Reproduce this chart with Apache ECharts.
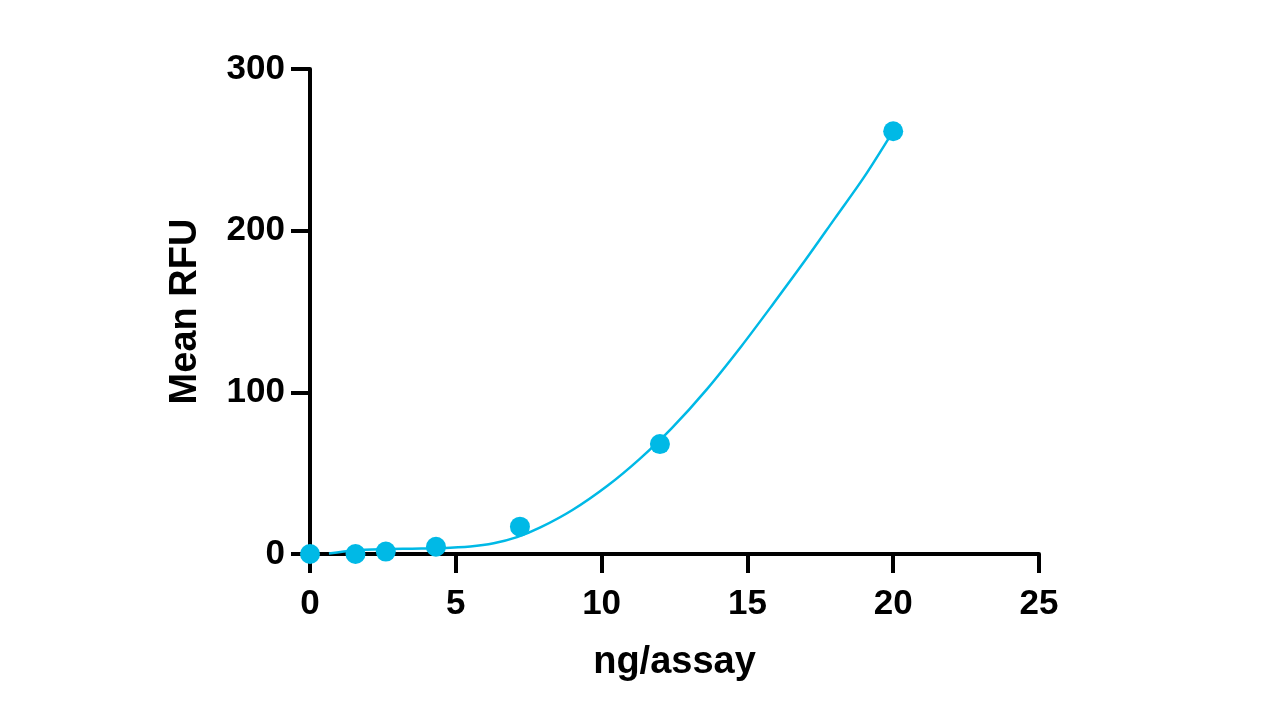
<!DOCTYPE html>
<html>
<head>
<meta charset="utf-8">
<script src="https://cdn.jsdelivr.net/npm/echarts@6/dist/echarts.min.js"></script>
<style>
html,body{margin:0;padding:0;background:#fff;}
#chart{width:1280px;height:720px;}
</style>
</head>
<body>
<div id="chart"></div>
<script>
// Measured points
const doseX = [0, 1.56, 2.6, 4.32, 7.2, 12, 20];
const meanRFU = [0, 0, 1.5, 4.5, 16.9, 68, 261.5];

// Fitted curve
const curveX = [0.65, 1.5, 2.5, 3.5, 4.5, 5.5, 6.3, 7.1, 7.9, 9.0, 10.2, 11.3, 12.4, 13.6, 14.8, 15.9, 17.0, 18.0, 19.0, 20];
const curveY = [0.3, 2.2, 3.0, 3.3, 3.6, 4.6, 6.6, 10.4, 16.4, 27.2, 42.2, 58.7, 77.7, 101.7, 128.7, 155.1, 182.1, 207.6, 233.1, 261.6];

const xTicks = [0, 5, 10, 15, 20, 25];
const yTicks = [0, 100, 200, 300];

const color = '#00b9e6';
const font = 'Liberation Sans, Arial, sans-serif';

const chart = echarts.init(document.getElementById('chart'), null, {renderer: 'canvas'});
chart.setOption({
  animation: false,
  backgroundColor: '#fff',
  grid: {left: 310, right: 241, top: 69, bottom: 166, containLabel: false},
  xAxis: {
    type: 'value',
    min: xTicks[0], max: xTicks[xTicks.length - 1], interval: 5,
    name: 'ng/assay',
    nameLocation: 'middle',
    nameGap: 90,
    nameTextStyle: {fontFamily: font, fontWeight: 'bold', fontSize: 38, color: '#000'},
    axisLine: {show: true, onZero: false, lineStyle: {color: '#000', width: 4}},
    axisTick: {show: true, length: 19, lineStyle: {color: '#000', width: 4}},
    axisLabel: {margin: 33, fontFamily: font, fontWeight: 'bold', fontSize: 35, color: '#000'},
    splitLine: {show: false}
  },
  yAxis: {
    type: 'value',
    min: yTicks[0], max: yTicks[yTicks.length - 1], interval: 100,
    name: 'Mean RFU',
    nameLocation: 'middle',
    nameGap: 105,
    nameTextStyle: {fontFamily: font, fontWeight: 'bold', fontSize: 38, color: '#000'},
    axisLine: {show: true, onZero: false, lineStyle: {color: '#000', width: 4}},
    axisTick: {show: true, length: 19, lineStyle: {color: '#000', width: 4}},
    axisLabel: {margin: 25, fontFamily: font, fontWeight: 'bold', fontSize: 35, color: '#000'},
    splitLine: {show: false}
  },
  series: [
    {
      type: 'line',
      data: curveX.map((x, i) => [x, curveY[i]]),
      smooth: 0.3,
      showSymbol: false,
      symbol: 'none',
      lineStyle: {color: color, width: 2.5},
      z: 3
    },
    {
      type: 'scatter',
      data: doseX.map((x, i) => [x, meanRFU[i]]),
      symbol: 'circle',
      symbolSize: 20,
      clip: false,
      itemStyle: {color: color, opacity: 1},
      z: 4
    }
  ]
});
</script>
</body>
</html>
